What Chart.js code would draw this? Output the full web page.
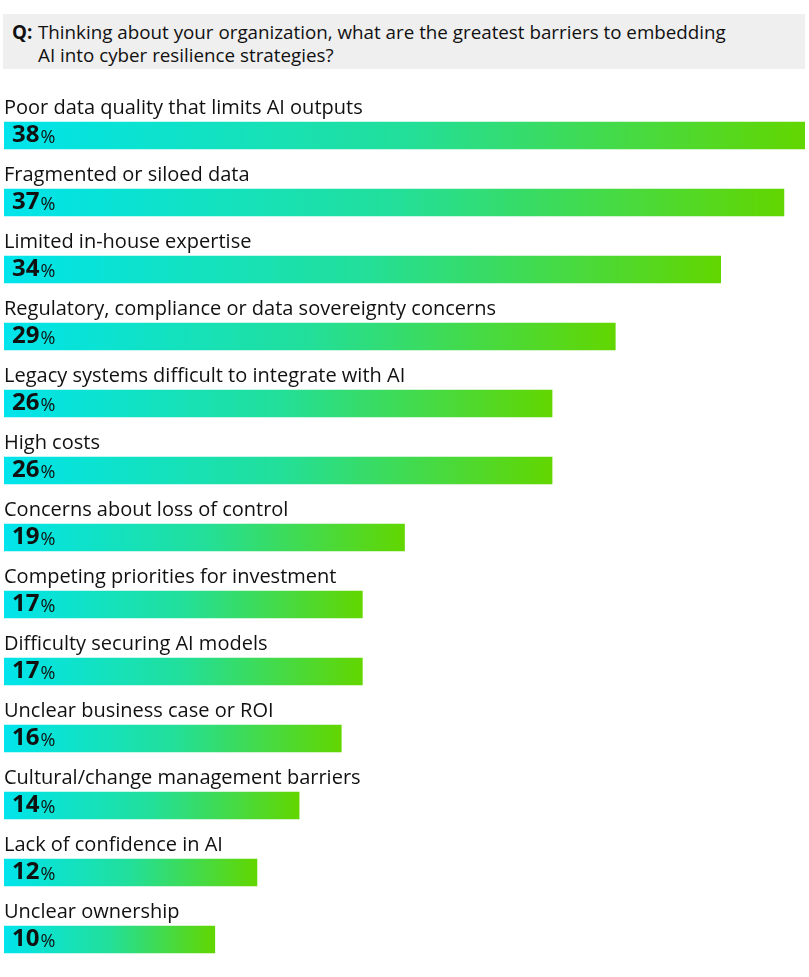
<!DOCTYPE html>
<html>
<head>
<meta charset="utf-8">
<script src="https://cdn.jsdelivr.net/npm/chart.js@4/dist/chart.umd.min.js"></script>
<style>
    body { margin: 0; background: #fff; font-family: "Open Sans", "Noto Sans", sans-serif; }
    #wrap { position: relative; width: 809px; height: 977px; }
    #barrier-chart { position: absolute; left: 0; top: 0; }
    #question {
        position: absolute; left: 3px; top: 14px; width: 802px; height: 55px;
        background: #efefef; display: flex; box-sizing: border-box;
        padding: 7px 0 0 9px; font-size: 18.8px; line-height: 23px; color: #111;
    }
    #question b { width: 26px; flex: none; }
</style>
</head>
<body>
<div id="wrap">
    <canvas id="barrier-chart" width="809" height="977"></canvas>
    <div id="question"><b>Q:</b><span id="question-text"></span></div>
</div>
<script>
var question_lines = [
    'Thinking about your organization, what are the greatest barriers to embedding',
    'AI into cyber resilience strategies?'
];
var categories = [
    'Poor data quality that limits AI outputs',
    'Fragmented or siloed data',
    'Limited in-house expertise',
    'Regulatory, compliance or data sovereignty concerns',
    'Legacy systems difficult to integrate with AI',
    'High costs',
    'Concerns about loss of control',
    'Competing priorities for investment',
    'Difficulty securing AI models',
    'Unclear business case or ROI',
    'Cultural/change management barriers',
    'Lack of confidence in AI',
    'Unclear ownership'
];
var percents = [38, 37, 34, 29, 26, 26, 19, 17, 17, 16, 14, 12, 10];

document.getElementById('question-text').innerHTML = question_lines.join('<br>');

// labels above each bar and the value inside it
var barLabels = {
    id: 'barLabels',
    afterDatasetsDraw: function (chart) {
        var ctx = chart.ctx;
        var meta = chart.getDatasetMeta(0);
        ctx.save();
        ctx.textBaseline = 'middle';
        ctx.fillStyle = '#111';
        meta.data.forEach(function (bar, i) {
            ctx.font = '20px "Open Sans", "Noto Sans", sans-serif';
            ctx.fillText(categories[i], 4, bar.y - 27);
            ctx.font = 'bold 24px "Open Sans", "Noto Sans", sans-serif';
            var num = String(percents[i]);
            ctx.fillText(num, 12, bar.y);
            var w = ctx.measureText(num).width;
            ctx.font = '18px "Open Sans", "Noto Sans", sans-serif';
            ctx.fillText('%', 12 + w + 1, bar.y + 2);
        });
        ctx.restore();
    }
};

var ctx = document.getElementById('barrier-chart').getContext('2d');
var barrier_chart = new Chart(ctx, {
    type: 'bar',
    data: {
        labels: categories,
        datasets: [{
            data: percents,
            barThickness: 27,
            borderWidth: 0,
            backgroundColor: function (context) {
                var chart = context.chart;
                if (!chart.chartArea || context.raw == null) {
                    return '#00e4ec';
                }
                var xs = chart.scales.x;
                var g = chart.ctx.createLinearGradient(xs.getPixelForValue(0), 0, xs.getPixelForValue(context.raw), 0);
                g.addColorStop(0, '#00e4ec');
                g.addColorStop(0.5, '#22df9a');
                g.addColorStop(1, '#62d600');
                return g;
            }
        }]
    },
    options: {
        indexAxis: 'y',
        responsive: false,
        animation: false,
        layout: { padding: { left: 4, right: 4, top: 102, bottom: 4 } },
        scales: {
            x: { display: false, min: 0, max: 38 },
            y: { display: false }
        },
        plugins: {
            legend: { display: false },
            tooltip: { enabled: false }
        }
    },
    plugins: [barLabels]
});
</script>
</body>
</html>
